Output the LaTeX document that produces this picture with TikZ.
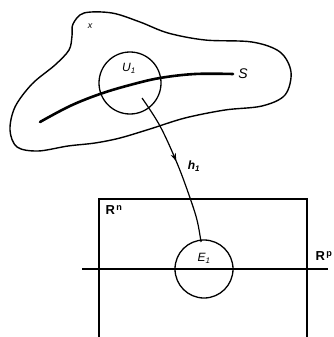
\documentclass[tikz,border=0pt]{standalone}
\usepackage{fontspec}
\setmainfont{Liberation Sans}
\usetikzlibrary{arrows.meta,decorations.markings}
\begin{document}
\begin{tikzpicture}[x=1pt,y=-1pt,
  outline/.style={line width=1.4pt},
  thickcurve/.style={line width=2.6pt,line cap=round},
  ball/.style={circle,draw,line width=1.3pt,inner sep=0pt},
  lbl/.style={font=\fontsize{12}{13}\selectfont\itshape,inner sep=0pt},
  blbl/.style={font=\fontsize{13}{14}\selectfont\bfseries,inner sep=0pt}]
\useasboundingbox (0,0) rectangle (334,337);
% region X
\draw[outline] plot[smooth cycle,tension=0.55] coordinates {
 (73,24) (84,13) (112,13) (140,22) (168,33) (205,40) (252,42) (280,52)
 (291,72) (285,95) (262,106) (225,110) (185,118) (150,129) (120,138)
 (95,143) (68,146) (38,151) (17,147) (10,130) (15,107) (32,84)
 (55,65) (69,50) (72,36)};
% curve S
\draw[thickcurve] plot[smooth,tension=0.6] coordinates {
 (40,122) (70,106) (100,94) (130,85) (160,78) (195,74) (233,74)};
% neighbourhoods
\node[ball,minimum size=62pt] (U) at (130,83) {};
\node[ball,minimum size=58pt] (E) at (204,269) {};
% box R^n
\coordinate (bl) at (99,337);
\coordinate (tl) at (99,199);
\coordinate (tr) at (307,199);
\coordinate (br) at (307,337);
\draw[line width=1.3pt] (bl) -- (tl) -- (tr) -- (br);
% line R^p
\coordinate (pl) at (82,269);
\coordinate (pr) at (328,269);
\draw[line width=2.1pt] (pl) -- (pr);
% map h1
\coordinate (hs) at (142,98);
\coordinate (he) at (201,242);
\draw[line width=1.2pt,postaction={decorate},
  decoration={markings,mark=at position 0.46 with {\arrow{Stealth[length=8pt,width=5.5pt]}}}]
  plot[smooth,tension=0.6] coordinates {(hs) (160,126) (177,163) (189,195) (197,220) (he)};
% labels
\node[lbl,font=\fontsize{9}{10}\selectfont\itshape] (lx) at (90,26) {x};
\node[lbl] (lU) at (129,68) {U\textsubscript{1}};
\node[lbl,font=\fontsize{14}{15}\selectfont\itshape] (lS) at (243,74) {S};
\node[lbl,font=\fontsize{12}{13}\selectfont\bfseries\itshape] (lh) at (194,166) {h\textsubscript{1}};
\node[lbl] (lE) at (204,258) {E\textsubscript{1}};
\node[blbl] (lRn) at (114,210) {R\textsuperscript{\,n}};
\node[blbl] (lRp) at (324,256) {R\textsuperscript{\,p}};
\end{tikzpicture}
\end{document}
